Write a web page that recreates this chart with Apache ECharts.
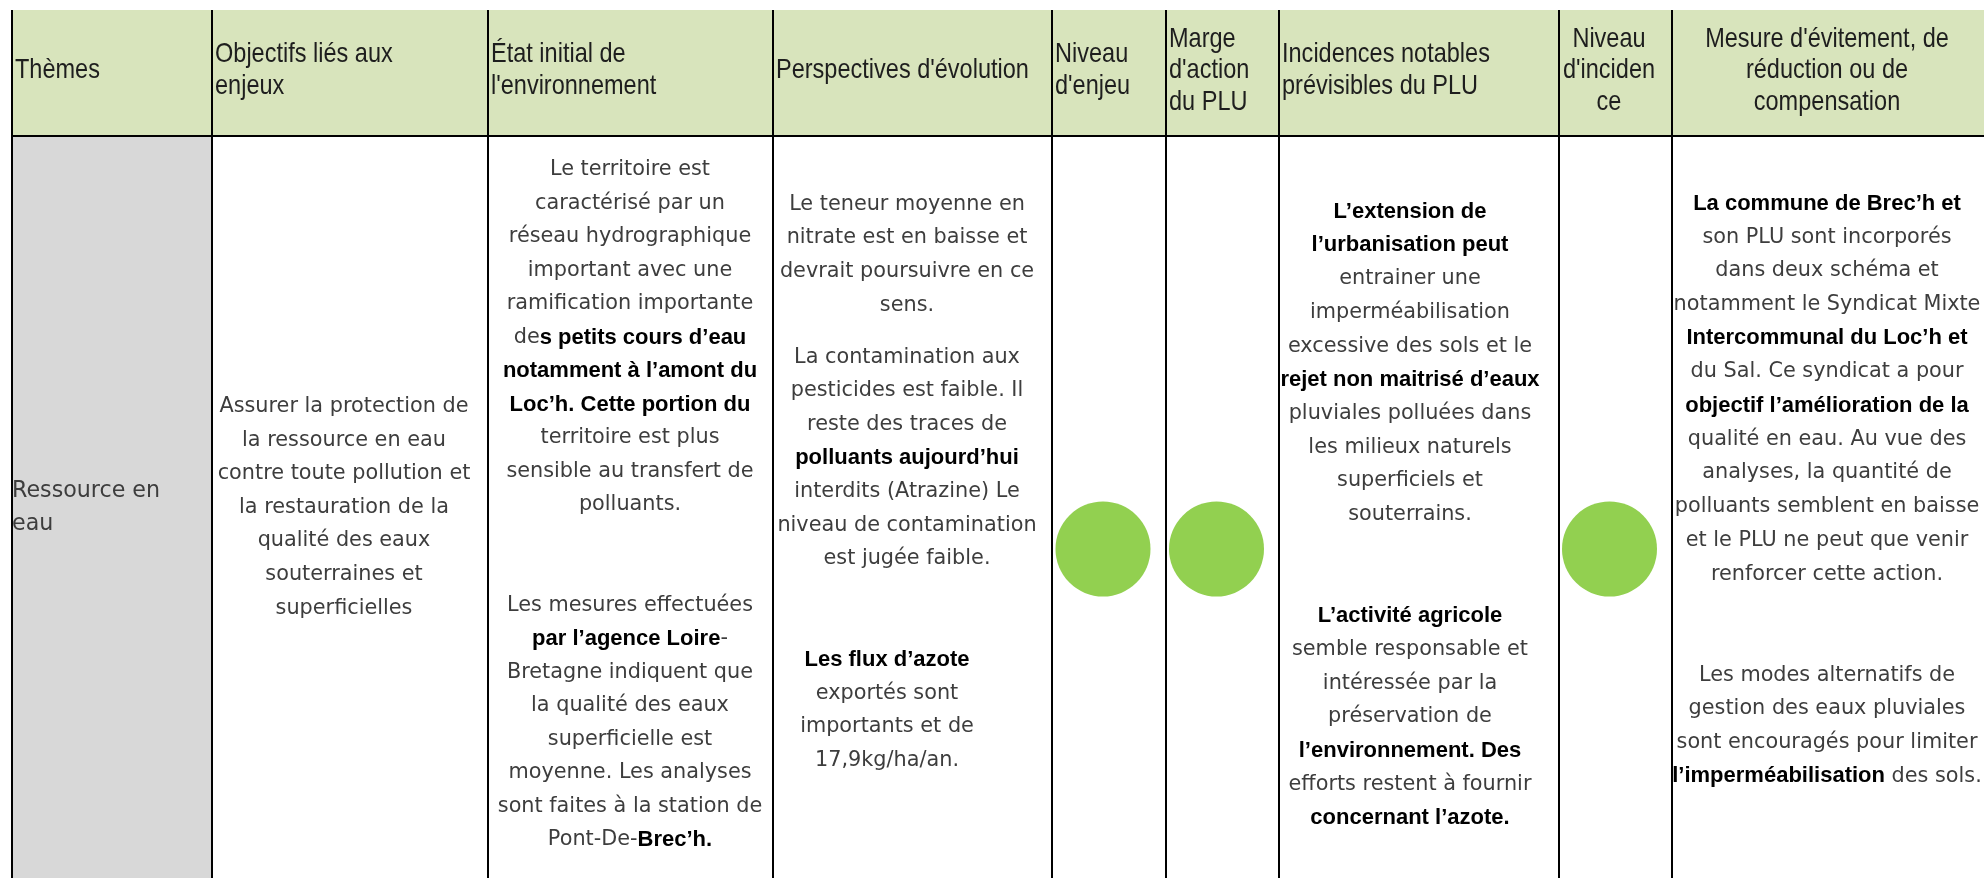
<!DOCTYPE html>
<html>
<head>
<meta charset="utf-8">
<script src="https://cdn.jsdelivr.net/npm/echarts@6/dist/echarts.min.js"></script>
<style>
html,body{margin:0;padding:0;background:#ffffff;}
#c{width:1984px;height:878px;}
</style>
</head>
<body>
<div id="c"></div>
<script>
// ================= DATA =================
const headers = [
  'Thèmes',
  'Objectifs liés aux\nenjeux',
  'État initial de\nl\'environnement',
  'Perspectives d\'évolution',
  'Niveau\nd\'enjeu',
  'Marge\nd\'action\ndu PLU',
  'Incidences notables\nprévisibles du PLU',
  'Niveau\nd\'inciden\nce',
  'Mesure d\'évitement, de\nréduction ou de\ncompensation'
];

const themes = ['Ressource en\neau'];

const objectifs = [
  'Assurer la protection de\nla ressource en eau\ncontre toute pollution et\nla restauration de la\nqualité des eaux\nsouterraines et\nsuperficielles'
];

const etatInitial = [
  'Le territoire est\ncaractérisé par un\nréseau hydrographique\nimportant avec une\nramification importante\nde**s petits cours d’eau**\n**notamment à l’amont du**\n**Loc’h. Cette portion du**\nterritoire est plus\nsensible au transfert de\npolluants.\n\n\nLes mesures effectuées\n**par l’agence Loire**-\nBretagne indiquent que\nla qualité des eaux\nsuperficielle est\nmoyenne. Les analyses\nsont faites à la station de\nPont-De-**Brec’h.**'
];

const perspectives = [
  'Le teneur moyenne en\nnitrate est en baisse et\ndevrait poursuivre en ce\nsens.\nLa contamination aux\npesticides est faible. Il\nreste des traces de\n**polluants aujourd’hui**\ninterdits (Atrazine) Le\nniveau de contamination\nest jugée faible.\n\n\n**Les flux d’azote**\nexportés sont\nimportants et de\n17,9kg/ha/an.'
];

const incidences = [
  '**L’extension de**\n**l’urbanisation peut**\nentrainer une\nimperméabilisation\nexcessive des sols et le\n**rejet non maitrisé d’eaux**\npluviales polluées dans\nles milieux naturels\nsuperficiels et\nsouterrains.\n\n\n**L’activité agricole**\nsemble responsable et\nintéressée par la\npréservation de\n**l’environnement. Des**\nefforts restent à fournir\n**concernant l’azote.**'
];

const mesures = [
  '**La commune de Brec’h et**\nson PLU sont incorporés\ndans deux schéma et\nnotamment le Syndicat Mixte\n**Intercommunal du Loc’h et**\ndu Sal. Ce syndicat a pour\n**objectif l’amélioration de la**\nqualité en eau. Au vue des\nanalyses, la quantité de\npolluants semblent en baisse\net le PLU ne peut que venir\nrenforcer cette action.\n\n\nLes modes alternatifs de\ngestion des eaux pluviales\nsont encouragés pour limiter\n**l’imperméabilisation** des sols.'
];

const niveauEnjeu = ['faible'];
const margeAction = ['faible'];
const niveauIncidence = ['faible'];

// ================= LAYOUT / STYLE =================
const COLS = [12, 212, 488, 773, 1052, 1166, 1279, 1559, 1672, 1990];
const HEAD_TOP = 10, HEAD_BOTTOM = 136, BODY_BOTTOM = 878;
const LEVEL_COLORS = { faible: '#92d050' };
const LH = 33.6;
const LEVEL_Y = 549, LEVEL_R = 47.5;

const bodyTextCols = [themes, objectifs, etatInitial, perspectives, null, null, incidences, null, mesures];
const levelCols = [null, null, null, null, niveauEnjeu, margeAction, null, niveauIncidence, null];

const BODY_LAYOUT = {
  0: { align: 'left', x: 12, middle: 508, lh: 33, regSize: 22.2 },
  1: { align: 'center', x: 344, middle: 507.5 },
  2: { align: 'center', x: 630, top: 170, lh: 33.5 },
  3: { align: 'center', x: 907, top: 204.5, extraAfter: { 3: 0.55 }, shiftFrom: 13, shiftX: 887 },
  6: { align: 'center', x: 1410, top: 211.5, lh: 33.7 },
  8: { align: 'center', x: 1827, top: 203.5, lh: 33.7 }
};
const HEAD_ALIGN = ['left','left','left','left','left','left','left','center','center'];
const HEAD_CX = { 7: 1609, 8: 1827 };

const REG_FONT = '"DejaVu Sans", "Noto Sans", sans-serif';
const BOLD_FONT = '"Liberation Sans", Arial, sans-serif';
const HEAD_FONT = '"Liberation Sans", Arial, sans-serif';
function richFor(regSize) {
  return {
    r: { fontFamily: REG_FONT, fontSize: regSize || 20.8, fill: '#3d3d3d', fontWeight: 'normal' },
    b: { fontFamily: BOLD_FONT, fontSize: 22, fill: '#000000', fontWeight: 'bold' }
  };
}

function toRich(line) {
  const parts = line.split('**');
  return parts.map((s, i) => s ? '{' + (i % 2 ? 'b' : 'r') + '|' + s + '}' : '').join('');
}

// ================= CHART =================
const chart = echarts.init(document.getElementById('c'), null, { renderer: 'canvas', width: 1984, height: 878 });

const cellData = [];
for (let c = 0; c < headers.length; c++) { cellData.push([c, 0]); cellData.push([c, 1]); }

const option = {
  animation: false,
  backgroundColor: '#ffffff',
  grid: { left: 0, right: 0, top: 0, bottom: 0 },
  xAxis: { type: 'value', min: 0, max: 1984, show: false },
  yAxis: { type: 'value', min: 0, max: 878, inverse: true, show: false },
  series: [
    {
      type: 'custom', silent: true, data: cellData,
      renderItem: function (params, api) {
        const c = api.value(0), r = api.value(1);
        const p1 = api.coord([COLS[c], r === 0 ? HEAD_TOP : HEAD_BOTTOM]);
        const p2 = api.coord([COLS[c + 1], r === 0 ? HEAD_BOTTOM : BODY_BOTTOM]);
        let fill = '#ffffff';
        if (r === 0) fill = '#d8e4bc';
        else if (c === 0) fill = '#d8d8d8';
        return { type: 'rect', shape: { x: p1[0], y: p1[1], width: p2[0] - p1[0], height: p2[1] - p1[1] }, style: { fill: fill } };
      }
    },
    {
      type: 'custom', silent: true, data: COLS.slice(0, headers.length).map((x, i) => [i, 0]),
      renderItem: function (params, api) {
        const c = api.value(0);
        const a = api.coord([COLS[c], HEAD_TOP]);
        const b = api.coord([COLS[c], BODY_BOTTOM]);
        const children = [{ type: 'line', shape: { x1: a[0], y1: a[1], x2: b[0], y2: b[1] }, style: { stroke: '#000', lineWidth: 2 } }];
        if (c === 0) {
          const h1 = api.coord([COLS[0] - 1, HEAD_BOTTOM]);
          const h2 = api.coord([COLS[COLS.length - 1], HEAD_BOTTOM]);
          children.push({ type: 'line', shape: { x1: h1[0], y1: h1[1], x2: h2[0], y2: h2[1] }, style: { stroke: '#000', lineWidth: 2.2 } });
        }
        return { type: 'group', children: children };
      }
    },
    {
      type: 'custom', silent: true, data: headers.map((h, i) => [i, 0]),
      renderItem: function (params, api) {
        const c = api.value(0);
        const lines = headers[c].split('\n');
        const n = lines.length;
        const mid = 70.5;
        const align = HEAD_ALIGN[c];
        const x = align === 'left' ? COLS[c] + 3 : HEAD_CX[c];
        const children = lines.map((ln, i) => {
          const p = api.coord([x, mid + (i - (n - 1) / 2) * 31.6]);
          return {
            type: 'text', x: p[0], y: p[1], scaleX: 0.84, scaleY: 1,
            style: { text: ln, x: 0, y: 0, align: align, verticalAlign: 'middle', fontFamily: HEAD_FONT, fontSize: 28, fill: '#1e1e1e' }
          };
        });
        return { type: 'group', children: children };
      }
    },
    {
      type: 'custom', silent: true,
      data: bodyTextCols.map((t, i) => [i, 1]).filter(d => bodyTextCols[d[0]]),
      renderItem: function (params, api) {
        const c = api.value(0);
        const L = BODY_LAYOUT[c];
        const lh = L.lh || LH;
        const rich = richFor(L.regSize);
        const lines = bodyTextCols[c][0].split('\n');
        const slots = [];
        let s = 0;
        for (let i = 0; i < lines.length; i++) {
          slots.push(s);
          s += 1 + ((L.extraAfter && L.extraAfter[i]) || 0);
        }
        let y0;
        if (L.top !== undefined) y0 = L.top;
        else y0 = L.middle - slots[slots.length - 1] * lh / 2;
        const children = [];
        lines.forEach((ln, i) => {
          if (!ln) return;
          const x = (L.shiftFrom !== undefined && i >= L.shiftFrom) ? L.shiftX : L.x;
          const p = api.coord([x, y0 + slots[i] * lh]);
          children.push({ type: 'text', style: { text: toRich(ln), rich: rich, x: p[0], y: p[1], align: L.align, verticalAlign: 'middle' } });
        });
        return { type: 'group', children: children };
      }
    },
    {
      type: 'custom', silent: true,
      data: levelCols.map((t, i) => [i, 1]).filter(d => levelCols[d[0]]),
      renderItem: function (params, api) {
        const c = api.value(0);
        const level = levelCols[c][0];
        const cx = (COLS[c] + COLS[c + 1]) / 2 - 6;
        const p = api.coord([cx, LEVEL_Y]);
        const q = api.coord([cx + LEVEL_R, LEVEL_Y]);
        return { type: 'circle', shape: { cx: p[0], cy: p[1], r: q[0] - p[0] }, style: { fill: LEVEL_COLORS[level] } };
      }
    }
  ]
};
chart.setOption(option);
</script>
</body>
</html>
